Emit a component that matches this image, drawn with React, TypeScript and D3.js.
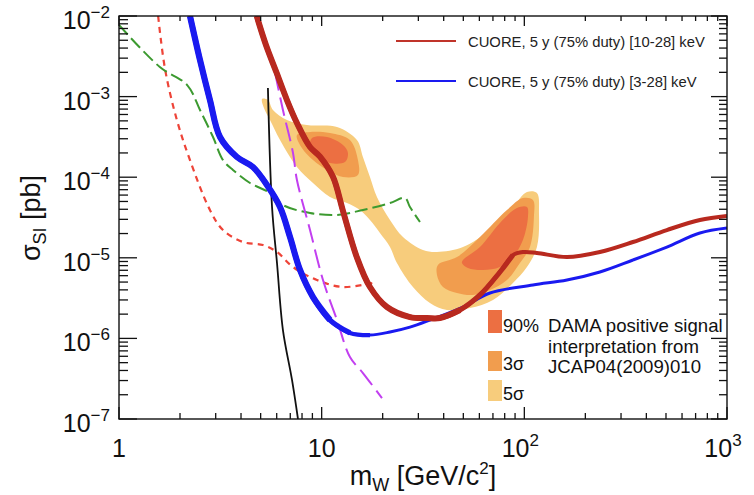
import React from "react";
import * as d3 from "d3";

type P = [number, number];

// ---- data: [mass GeV/c^2, sigma pb] ----
const cuore1028: P[] = [
  [4.78, 1.0e-2], [5.31, 4.37e-3], [6.0, 1.96e-3], [6.74, 9.07e-4], [7.55, 4.7e-4],
  [8.76, 2.37e-4], [9.81, 1.8e-4], [11.37, 1.01e-4], [12.74, 3.81e-5], [14.88, 1.03e-5],
  [17.31, 4.34e-6], [21.0, 2.45e-6], [27.27, 1.84e-6], [33.07, 1.79e-6], [38.34, 1.79e-6],
  [48.12, 2.25e-6], [60.39, 3.46e-6], [75.8, 6.67e-6], [87.87, 1.08e-5], [98.4, 1.18e-5],
  [115.4, 1.15e-5], [162.3, 1.02e-5], [236, 1.18e-5], [343.5, 1.57e-5], [505, 2.21e-5],
  [735, 2.94e-5], [1000, 3.3e-5],
];
const cuore328: P[] = [
  [2.24, 1.0e-2], [2.51, 2.84e-3], [2.81, 9.07e-4], [3.15, 3.15e-4], [3.82, 1.78e-4],
  [4.58, 1.34e-4], [5.37, 8.0e-5], [6.23, 4.27e-5], [6.98, 1.81e-5], [7.82, 7.06e-6],
  [9.06, 3.26e-6], [10.99, 1.69e-6], [13.79, 1.17e-6], [17.31, 1.1e-6], [21.73, 1.2e-6],
  [27.27, 1.38e-6], [34.22, 1.69e-6], [49.8, 2.45e-6], [67.68, 3.66e-6], [110.3, 4.6e-6],
  [162.3, 5.3e-6], [236, 6.67e-6], [343.5, 9.39e-6], [505, 1.36e-5], [735, 2.03e-5],
  [1000, 2.34e-5],
];
const greenDashed: P[] = [
  [1.0, 7.73e-3], [1.59, 2.33e-3], [2.17, 1.39e-3], [2.51, 6.82e-4], [2.91, 3.15e-4],
  [3.26, 1.63e-4], [3.65, 1.23e-4], [4.43, 8.47e-5], [5.56, 6.37e-5], [6.44, 4.52e-5],
  [8.76, 3.6e-5], [11.9, 3.4e-5], [15.98, 3.92e-5], [21.73, 4.78e-5], [25.76, 5.52e-5],
  [27.27, 4.27e-5], [30.55, 2.78e-5],
];
const redDotted: P[] = [
  [1.56, 1.0e-2], [1.69, 2.14e-3], [1.93, 5.13e-4], [2.24, 1.63e-4], [2.81, 3.92e-5],
  [3.26, 2.21e-5], [4.09, 1.57e-5], [5.13, 1.44e-5], [6.02, 1.18e-5], [7.22, 7.69e-6],
  [9.48, 5.3e-6], [12.74, 4.34e-6], [18.74, 5.01e-6],
];
const violetDashed: P[] = [
  [5.88, 2.02e-3], [6.44, 6.82e-4], [7.22, 2.0e-4], [7.55, 9.23e-5], [8.76, 2.21e-5],
  [10.15, 5.3e-6], [11.9, 1.69e-6], [13.79, 5.88e-7], [15.98, 3.72e-7], [19.84, 1.82e-7],
];
const blackLine: P[] = [
  [5.43, 1.28e-3], [5.69, 4.27e-5], [6.02, 8.62e-6], [6.44, 1.27e-6], [7.14, 3.05e-7],
  [7.64, 1.0e-7],
];
const dama5s: P[] = [
  [5.08, 9.34e-4], [5.43, 9.07e-4], [5.75, 6.82e-4], [6.74, 5.13e-4], [8.46, 4.44e-4],
  [11.9, 4.2e-4], [14.93, 2.89e-4], [15.98, 1.78e-4], [17.31, 1.006e-4], [18.74, 5.68e-5],
  [21.73, 2.94e-5], [25.19, 1.81e-5], [31.61, 1.25e-5], [37.06, 1.18e-5], [49.8, 1.36e-5],
  [67.68, 2.21e-5], [87.87, 4.27e-5], [103.0, 6.55e-5], [115.4, 6.37e-5], [118.1, 3.6e-5],
  [115.4, 1.36e-5], [103.0, 7.69e-6], [87.87, 4.87e-6], [70.03, 3.0e-6], [53.91, 2.38e-6],
  [41.51, 2.25e-6], [34.22, 2.75e-6], [28.21, 4.34e-6], [23.52, 8.62e-6], [21.73, 1.36e-5],
  [19.39, 2.03e-5], [17.31, 2.94e-5], [15.45, 3.92e-5], [13.33, 4.78e-5], [10.99, 5.68e-5],
  [9.06, 8.47e-5], [7.55, 1.34e-4], [6.23, 2.89e-4], [5.56, 5.13e-4], [5.19, 7.22e-4],
];
const dama3sLow: P[] = [
  [7.55, 3.34e-4], [8.76, 3.64e-4], [10.99, 3.53e-4], [13.79, 2.89e-4], [15.1, 1.63e-4],
  [15.1, 1.065e-4], [12.74, 1.006e-4], [10.62, 1.23e-4], [9.06, 1.63e-4], [7.99, 2.3e-4],
];
const dama3sHigh: P[] = [
  [37.48, 8.14e-6], [46.51, 1.02e-5], [60.39, 1.81e-5], [82.08, 3.92e-5], [98.4, 5.52e-5],
  [110.3, 5.21e-5], [111.5, 3.21e-5], [106.6, 1.36e-5], [95.13, 8.62e-6], [82.08, 5.3e-6],
  [67.68, 3.99e-6], [55.78, 3.46e-6], [46.51, 3.66e-6], [39.67, 4.34e-6], [37.06, 6.12e-6],
];
const dama90Low: P[] = [
  [8.96, 3.06e-4], [10.62, 3.15e-4], [12.74, 2.51e-4], [13.48, 2.0e-4], [13.03, 1.54e-4],
  [10.99, 1.5e-4], [9.48, 1.78e-4], [8.76, 2.37e-4],
];
const dama90High: P[] = [
  [49.8, 9.39e-6], [60.39, 1.36e-5], [75.8, 2.7e-5], [91.93, 4.15e-5], [103.0, 4.27e-5],
  [104.2, 3.21e-5], [98.4, 1.66e-5], [87.87, 1.02e-5], [75.8, 7.69e-6], [62.49, 7.06e-6],
  [52.7, 7.47e-6], [49.23, 8.62e-6],
];

const xTicks = [
  { v: 1, base: "1", exp: "" },
  { v: 10, base: "10", exp: "" },
  { v: 100, base: "10", exp: "2" },
  { v: 1000, base: "10", exp: "3" },
];
const yTicks = [
  { v: 1e-2, exp: "\u22122" },
  { v: 1e-3, exp: "\u22123" },
  { v: 1e-4, exp: "\u22124" },
  { v: 1e-5, exp: "\u22125" },
  { v: 1e-6, exp: "\u22126" },
  { v: 1e-7, exp: "\u22127" },
];
const legendLines = [
  { label: "CUORE, 5 y (75% duty) [10-28] keV", color: "#c0342a" },
  { label: "CUORE, 5 y (75% duty) [3-28] keV", color: "#1a1af0" },
];
const damaLegend = [
  { label: "90%", color: "#ec6f42" },
  { label: "3\u03c3", color: "#f19d4e" },
  { label: "5\u03c3", color: "#f7cc7c" },
];
const damaText = ["DAMA positive signal", "interpretation from", "JCAP04(2009)010"];

const FONT = "'Liberation Sans', Arial, Helvetica, sans-serif";
const X0 = 119, X1 = 727, Y0 = 16, Y1 = 419;

export default function App() {
  const x = d3.scaleLog().domain([1, 1000]).range([X0, X1]);
  const y = d3.scaleLog().domain([1e-7, 1e-2]).range([Y1, Y0]);
  const line = d3
    .line<P>()
    .x((d) => x(d[0]))
    .y((d) => y(d[1]))
    .curve(d3.curveCatmullRom.alpha(0.5));
  const closed = d3
    .line<P>()
    .x((d) => x(d[0]))
    .y((d) => y(d[1]))
    .curve(d3.curveCatmullRomClosed.alpha(0.5));

  const xMinor: number[] = [];
  const xMajor: number[] = [];
  for (let k = 0; k < 3; k++) {
    xMajor.push(Math.pow(10, k));
    for (let m = 2; m <= 9; m++) xMinor.push(m * Math.pow(10, k));
  }
  xMajor.push(1000);
  const yMinor: number[] = [];
  const yMajor: number[] = [];
  for (let k = -7; k < -2; k++) {
    yMajor.push(Math.pow(10, k));
    for (let m = 2; m <= 9; m++) yMinor.push(m * Math.pow(10, k));
  }
  yMajor.push(1e-2);

  const redLayers = [
    { max: 1001, w: 4 },
    { max: 90, w: 5 },
    { max: 50, w: 6 },
  ];
  const blueLayers = [
    { max: 1001, w: 3 },
    { max: 18, w: 4.2 },
    { max: 14, w: 5.2 },
    { max: 11, w: 6.2 },
  ];

  return (
    <svg
      width={754}
      height={495}
      style={{ position: "absolute", left: 0, top: 0, background: "#fff" }}
      fontFamily={FONT}
    >
      <defs>
        <clipPath id="plot">
          <rect x={X0} y={Y0} width={X1 - X0} height={Y1 - Y0} />
        </clipPath>
      </defs>
      <rect x={0} y={0} width={754} height={495} fill="#fff" />

      <g clipPath="url(#plot)">
        <path d={closed(dama5s) ?? ""} fill="#f7cc7c" />
        <path d={closed(dama3sLow) ?? ""} fill="#f19d4e" />
        <path d={closed(dama3sHigh) ?? ""} fill="#f19d4e" />
        <path d={closed(dama90Low) ?? ""} fill="#ec6f42" />
        <path d={closed(dama90High) ?? ""} fill="#ec6f42" />

        <path d={line(redDotted) ?? ""} fill="none" stroke="#ee4438" strokeWidth={2.2} strokeDasharray="6 5" />
        <path d={line(greenDashed) ?? ""} fill="none" stroke="#3c9a30" strokeWidth={2} strokeDasharray="13 5" />
        <path d={line(blackLine) ?? ""} fill="none" stroke="#111" strokeWidth={1.8} />
        <path d={line(violetDashed) ?? ""} fill="none" stroke="#c23ff0" strokeWidth={2} strokeDasharray="19 7" />

        {blueLayers.map((l) => (
          <path
            key={"b" + l.max}
            d={line(cuore328.filter((d) => d[0] <= l.max)) ?? ""}
            fill="none"
            stroke="#1a1af0"
            strokeWidth={l.w}
            strokeLinejoin="round"
          />
        ))}
        {redLayers.map((l) => (
          <path
            key={"r" + l.max}
            d={line(cuore1028.filter((d) => d[0] <= l.max)) ?? ""}
            fill="none"
            stroke="#b8291f"
            strokeWidth={l.w}
            strokeLinejoin="round"
          />
        ))}
      </g>

      {/* frame */}
      <rect x={X0} y={Y0} width={X1 - X0} height={Y1 - Y0} fill="none" stroke="#111" strokeWidth={1.4} />

      {/* ticks */}
      <g stroke="#111" strokeWidth={1.3}>
        {xMajor.map((v) => (
          <g key={"xM" + v}>
            <line x1={x(v)} x2={x(v)} y1={Y1} y2={Y1 - 12} />
            <line x1={x(v)} x2={x(v)} y1={Y0} y2={Y0 + 10} />
          </g>
        ))}
        {xMinor.map((v) => (
          <g key={"xm" + v}>
            <line x1={x(v)} x2={x(v)} y1={Y1} y2={Y1 - 6} />
            <line x1={x(v)} x2={x(v)} y1={Y0} y2={Y0 + 5} />
          </g>
        ))}
        {yMajor.map((v) => (
          <g key={"yM" + v}>
            <line x1={X0} x2={X0 + 18} y1={y(v)} y2={y(v)} />
            <line x1={X1} x2={X1 - 16} y1={y(v)} y2={y(v)} />
          </g>
        ))}
        {yMinor.map((v) => (
          <g key={"ym" + v}>
            <line x1={X0} x2={X0 + 9} y1={y(v)} y2={y(v)} />
            <line x1={X1} x2={X1 - 8} y1={y(v)} y2={y(v)} />
          </g>
        ))}
      </g>

      {/* tick labels */}
      <g fill="#111" fontSize={25}>
        {xTicks.map((t) => (
          <text key={"xl" + t.v} x={x(t.v) - (t.exp ? 4 : 0)} y={457} textAnchor="middle">
            {t.base}
            {t.exp ? (
              <tspan fontSize={17} dy={-11}>
                {t.exp}
              </tspan>
            ) : null}
          </text>
        ))}
        {yTicks.map((t) => (
          <text key={"yl" + t.v} x={110} y={y(t.v) + 13} textAnchor="end">
            10
            <tspan fontSize={17} dy={-11}>
              {t.exp}
            </tspan>
          </text>
        ))}
      </g>

      {/* axis titles */}
      <text x={423} y={485} textAnchor="middle" fontSize={27} fill="#111">
        m<tspan fontSize={18} dy={6}>W</tspan>
        <tspan dy={-6}> [GeV/c</tspan>
        <tspan fontSize={17} dy={-11}>2</tspan>
        <tspan dy={11}>]</tspan>
      </text>
      <text transform="translate(40,218) rotate(-90)" textAnchor="middle" fontSize={27} fill="#111">
        σ<tspan fontSize={18} dy={6}>SI</tspan>
        <tspan dy={-6}> [pb]</tspan>
      </text>

      {/* legend CUORE */}
      {legendLines.map((l, i) => (
        <g key={l.label}>
          <line x1={396} x2={456} y1={41 + i * 40} y2={41 + i * 40} stroke={l.color} strokeWidth={2} />
          <text x={468} y={47 + i * 40} fontSize={14.8} fill="#222">
            {l.label}
          </text>
        </g>
      ))}

      {/* legend DAMA */}
      {damaLegend.map((d, i) => {
        const tops = [310, 351, 380];
        const hs = [23, 20, 21];
        const bases = [332, 370, 400];
        return (
          <g key={d.label}>
            <rect x={488} y={tops[i]} width={14} height={hs[i]} fill={d.color} />
            <text x={503} y={bases[i]} fontSize={18} fill="#111">
              {d.label}
            </text>
          </g>
        );
      })}
      {damaText.map((t, i) => (
        <text key={t} x={548} y={332 + i * 20.5} fontSize={18.6} fill="#111">
          {t}
        </text>
      ))}
    </svg>
  );
}
